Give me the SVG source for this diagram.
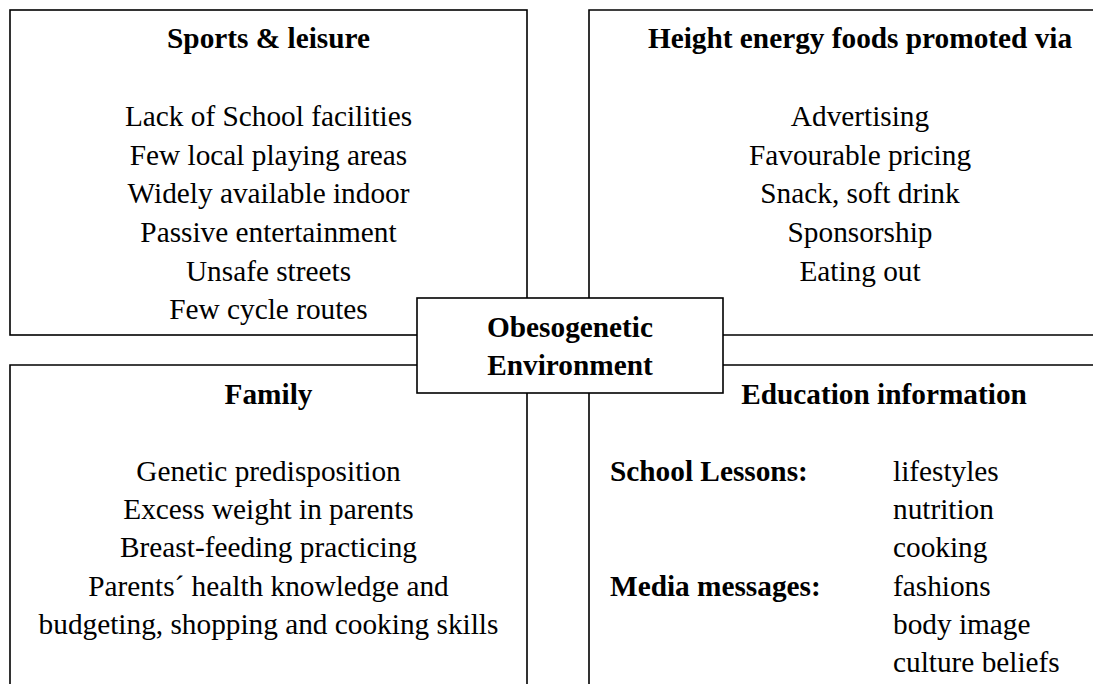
<svg xmlns="http://www.w3.org/2000/svg" width="1093" height="684" viewBox="0 0 1093 684">
  <style>
    .frame { fill: none; stroke: #000; stroke-width: 1.6; }
    .hub { fill: #fff; stroke: #000; stroke-width: 1.6; }
    text { font-family: "Liberation Serif", "Times New Roman", serif; font-size: 29.3px; fill: #000; }
    .c { text-anchor: middle; }
    .b { font-weight: bold; }
  </style>
  <rect width="1093" height="684" fill="#fff"/>

  <!-- quadrant frames (open where they run off the page) -->
  <g id="connectors">
    <rect class="frame" x="10" y="10" width="517" height="325"/>
    <path class="frame" d="M1100,10 H589 V335 H1100"/>
    <path class="frame" d="M10,690 V365 H527 V690"/>
    <path class="frame" d="M589,690 V365 H1100"/>
  </g>

  <g id="sports-leisure">
    <text class="c b" x="268.5" y="48">Sports &amp; leisure</text>
    <text class="c" x="268.5" y="126">Lack of School facilities</text>
    <text class="c" x="268.5" y="164.7">Few local playing areas</text>
    <text class="c" x="268.5" y="203.4">Widely available indoor</text>
    <text class="c" x="268.5" y="242">Passive entertainment</text>
    <text class="c" x="268.5" y="280.7">Unsafe streets</text>
    <text class="c" x="268.5" y="319.4">Few cycle routes</text>
  </g>

  <g id="energy-foods">
    <text class="c b" x="860" y="48">Height energy foods promoted via</text>
    <text class="c" x="860" y="126">Advertising</text>
    <text class="c" x="860" y="164.7">Favourable pricing</text>
    <text class="c" x="860" y="203.4">Snack, soft drink</text>
    <text class="c" x="860" y="242">Sponsorship</text>
    <text class="c" x="860" y="280.7">Eating out</text>
  </g>

  <g id="family">
    <text class="c b" x="268.5" y="404">Family</text>
    <text class="c" x="268.5" y="480.5">Genetic predisposition</text>
    <text class="c" x="268.5" y="518.8">Excess weight in parents</text>
    <text class="c" x="268.5" y="557.2">Breast-feeding practicing</text>
    <text class="c" x="268.5" y="595.6">Parents´ health knowledge and</text>
    <text class="c" x="268.5" y="634">budgeting, shopping and cooking skills</text>
  </g>

  <g id="education">
    <text class="c b" x="884" y="404">Education information</text>
    <text class="b" x="610" y="480.5">School Lessons:</text>
    <text x="893" y="480.5">lifestyles</text>
    <text x="893" y="518.8">nutrition</text>
    <text x="893" y="557.2">cooking</text>
    <text class="b" x="610" y="595.6">Media messages:</text>
    <text x="893" y="595.6">fashions</text>
    <text x="893" y="634">body image</text>
    <text x="893" y="672.4">culture beliefs</text>
  </g>

  <g id="environment">
    <rect class="hub" x="417" y="298" width="306" height="95"/>
    <text class="c b" x="570" y="336.7">Obesogenetic</text>
    <text class="c b" x="570" y="375">Environment</text>
  </g>
</svg>
